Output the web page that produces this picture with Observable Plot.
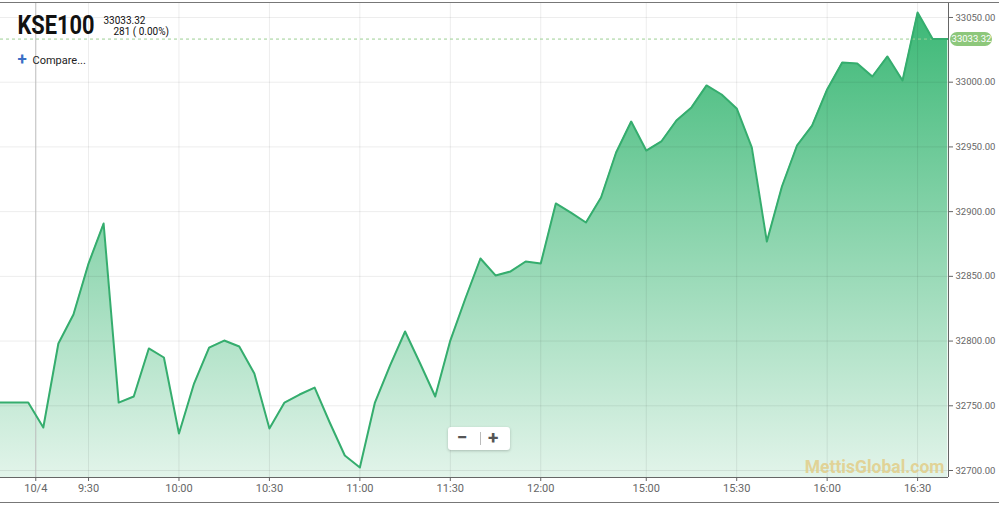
<!DOCTYPE html>
<html>
<head>
<meta charset="utf-8">
<script src="https://cdn.jsdelivr.net/npm/d3@7"></script>
<script src="https://cdn.jsdelivr.net/npm/@observablehq/plot@0.6"></script>
<style>
  body { margin: 0; background: #fff; font-family: Roboto, "Noto Sans", sans-serif; }
  #wrap { position: relative; width: 999px; height: 505px; padding-top: 2px; box-sizing: border-box; }
  #wrap svg { display: block; border-top: 1px solid #777; border-bottom: 1px solid #777; }
  #zoom { position: absolute; left: 448px; top: 427px; width: 62px; height: 23px; background: #fff;
          border-radius: 3px; box-shadow: 0 1px 3px rgba(0,0,0,0.22); font-family: Roboto, sans-serif; }
  #zoom span { position: absolute; top: 0; height: 23px; line-height: 22px; font-size: 19px; font-weight: bold; color: #555; }
  #zoom .sep { position: absolute; left: 32px; top: 5px; width: 1px; height: 13px; background: #bbb; }
</style>
</head>
<body>
<div id="wrap">
  <div id="zoom"><span style="left:9px">−</span><div class="sep"></div><span style="left:40px">+</span></div>
</div>
<script>
// 5‑minute trading slots (9:30 = 0, 12:00 = 30, 15:00 = 37, 16:30 = 55)
const slots = d3.range(-6, 58);
const prices = [
  32752.5, 32752.5, 32752.5, 32733.2, 32798.1, 32820.5, 32859.9, 32890.8,
  32752.5, 32757.2, 32794.3, 32787.3, 32728.6, 32767.2, 32795.0, 32800.4,
  32795.8, 32774.9, 32732.4, 32752.5, 32758.7, 32764.1, 32737.1, 32711.6,
  32702.3, 32752.5, 32781.1, 32807.4, 32782.7, 32757.2, 32800.4, 32832.9,
  32863.8, 32850.7, 32853.8, 32861.5, 32859.9, 32906.3, 32899.3, 32891.6,
  32910.9, 32945.7, 32969.6, 32947.2, 32954.2, 32970.4, 32980.5, 32997.5,
  32990.5, 32979.7, 32949.6, 32876.9, 32919.4, 32951.1, 32966.5, 32994.4,
  33015.2, 33014.5, 33004.4, 33019.9, 33001.3, 33053.9, 33033.32, 33033.32
];
const xTickValues = [-3.5, 0, 6, 12, 18, 24, 30, 37, 43, 49, 55];
const xTickLabels = ["10/4", "9:30", "10:00", "10:30", "11:00", "11:30", "12:00", "15:00", "15:30", "16:00", "16:30"];
const yTickValues = [32700, 32750, 32800, 32850, 32900, 32950, 33000, 33050];
const lastPrice = 33033.32;
const changeText = "281 ( 0.00%)";

const data = slots.map((s, i) => ({slot: s, price: prices[i]}));
const X_DOMAIN = [-5.84, 57.05];
const Y_DOMAIN = [32694.6, 33060.8];
const labelOf = new Map(xTickValues.map((v, i) => [v, xTickLabels[i]]));
const pxPerSlot = 15.075;

const chart = Plot.plot({
  width: 999,
  height: 499,
  marginLeft: 0,
  marginRight: 51,
  marginTop: 0,
  marginBottom: 25,
  style: {fontFamily: "Roboto", background: "white", overflow: "visible"},
  x: {domain: X_DOMAIN, label: null},
  y: {domain: Y_DOMAIN, label: null},
  marks: [
    Plot.areaY(data, {x: "slot", y1: Y_DOMAIN[0], y2: "price", fill: "url(#kseGrad)", clip: true}),
    Plot.gridY(yTickValues, {stroke: "#000", strokeOpacity: 0.075}),
    Plot.gridX(xTickValues.slice(1), {stroke: "#000", strokeOpacity: 0.075}),
    Plot.ruleX(xTickValues.slice(0, 1), {stroke: "#bbb"}),
    Plot.ruleY([lastPrice], {stroke: "#9ccf94", strokeDasharray: "3,3"}),
    Plot.lineY(data, {x: "slot", y: "price", stroke: "#35ad6e", strokeWidth: 2, clip: true}),
    Plot.ruleY([Y_DOMAIN[0]], {stroke: "#666"}),
    Plot.ruleX([X_DOMAIN[1]], {stroke: "#666"}),
    Plot.axisX(xTickValues, {label: null, tickFormat: d => labelOf.get(d), tickSize: 4, tickPadding: 3, fontSize: 11, color: "#666"}),
    Plot.axisY(yTickValues, {label: null, anchor: "right", tickSize: 4, tickPadding: 3, fontSize: 9.5, color: "#666", tickFormat: d => d.toFixed(2)}),
    // last price badge
    Plot.ruleY([lastPrice], {x1: X_DOMAIN[1] + 9 / pxPerSlot, x2: X_DOMAIN[1] + 37 / pxPerSlot, stroke: "#8dc77b", strokeWidth: 14, strokeLinecap: "round"}),
    Plot.text([lastPrice], {x: X_DOMAIN[1], y: d => d, dx: 23, text: d => d.toFixed(2), fill: "white", fontSize: 9.5, textAnchor: "middle"}),
    // header
    Plot.text(["KSE100"], {frameAnchor: "top-left", dx: 17, dy: 30, lineAnchor: "bottom", textAnchor: "start", fontSize: 25, fontWeight: "bold", fill: "#111"}),
    Plot.text([lastPrice.toFixed(2)], {frameAnchor: "top-left", dx: 103, dy: 20, lineAnchor: "bottom", textAnchor: "start", fontSize: 10, fill: "#111"}),
    Plot.text([changeText], {frameAnchor: "top-left", dx: 113, dy: 31, lineAnchor: "bottom", textAnchor: "start", fontSize: 10, fill: "#111"}),
    Plot.text(["+"], {frameAnchor: "top-left", dx: 17, dy: 56, lineAnchor: "middle", textAnchor: "start", fontSize: 17, fontWeight: "bold", fill: "#3b6fc6"}),
    Plot.text(["Compare..."], {frameAnchor: "top-left", dx: 32, dy: 60, lineAnchor: "bottom", textAnchor: "start", fontSize: 11, fill: "#222"}),
    // watermark
    Plot.text(["MettisGlobal.com"], {frameAnchor: "bottom-right", dx: -4, dy: -5, lineAnchor: "bottom", textAnchor: "end", fontSize: 17.5, fontWeight: "bold", fill: "#e2cf8c", fillOpacity: 0.9})
  ]
});

const ns = "http://www.w3.org/2000/svg";
const defs = document.createElementNS(ns, "defs");
const grad = document.createElementNS(ns, "linearGradient");
grad.setAttribute("id", "kseGrad");
grad.setAttribute("x1", "0"); grad.setAttribute("y1", "0");
grad.setAttribute("x2", "0"); grad.setAttribute("y2", "1");
[["0", "#3cb876"], ["1", "#e2f4ea"]].forEach(([o, c]) => {
  const s = document.createElementNS(ns, "stop");
  s.setAttribute("offset", o);
  s.setAttribute("stop-color", c);
  grad.appendChild(s);
});
defs.appendChild(grad);
chart.insertBefore(defs, chart.firstChild);
chart.querySelectorAll("text").forEach(t => {
  if (t.textContent === "KSE100") {
    t.setAttribute("textLength", "77");
    t.setAttribute("lengthAdjust", "spacingAndGlyphs");
  }
});
document.getElementById("wrap").insertBefore(chart, document.getElementById("zoom"));
</script>
</body>
</html>
